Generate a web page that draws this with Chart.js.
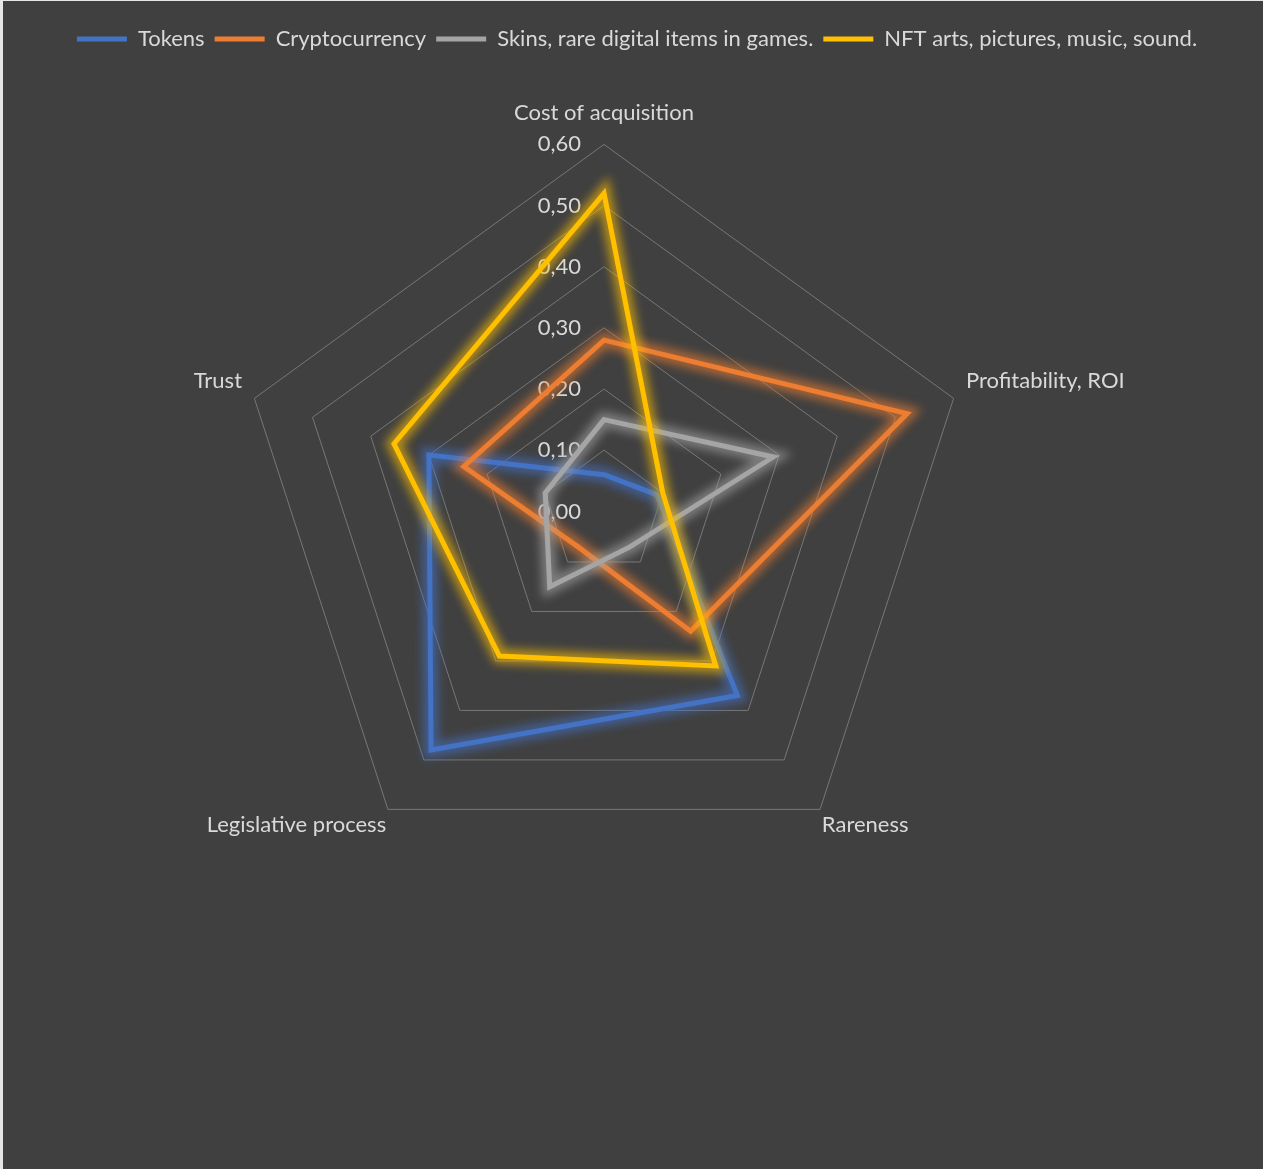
<!DOCTYPE html>
<html>
<head>
<meta charset="utf-8">
<title>Radar chart</title>
<script src="https://cdn.jsdelivr.net/npm/chart.js@4.4.1/dist/chart.umd.min.js"></script>
<style>
    html, body { margin: 0; padding: 0; background: #e6e6e6; }
    #wrap { position: absolute; left: 3px; top: 1px; width: 1260px; height: 1168px; background: #404040; }
</style>
</head>
<body>
<div id="wrap"><canvas id="radarChart"></canvas></div>
<script>
// Chart data
const categories = ['Cost of acquisition', 'Profitability, ROI', 'Rareness', 'Legislative process', 'Trust'];
const seriesNames = ['Tokens', 'Cryptocurrency', 'Skins, rare digital items in games.', 'NFT arts, pictures, music, sound.'];
const tokens = [0.06, 0.09, 0.37, 0.48, 0.30];
const cryptocurrency = [0.28, 0.52, 0.24, 0.07, 0.24];
const skins = [0.15, 0.29, 0.07, 0.15, 0.10];
const nftArts = [0.52, 0.10, 0.31, 0.29, 0.36];
const scaleMax = 0.6;
const scaleStep = 0.1;

const seriesColors = ['#4472C4', '#ED7D31', '#A5A5A5', '#FFC000'];
const textColor = '#d9d9d9';
const gridColor = '#777777';
// pushes the tick numbers to the left of the vertical axis
const TICK_PAD = '\u2007'.repeat(7);

Chart.defaults.font.family = 'Lato, "Open Sans", sans-serif';
Chart.defaults.font.size = 22;
Chart.defaults.color = textColor;

// glow: a wide, blurred, translucent copy of each line drawn underneath it
const glowPlugin = {
    id: 'glow',
    beforeDatasetDraw(chart, args) {
        const line = args.meta.dataset;
        if (!line) return;
        const ctx = chart.ctx;
        const base = line.options;
        ctx.save();
        ctx.filter = 'blur(5px)';
        ctx.globalAlpha = 0.6;
        line.options = Object.assign({}, base, { borderWidth: 15 });
        line.draw(ctx, chart.chartArea);
        line.options = base;
        ctx.restore();
    }
};

const allSeries = [tokens, cryptocurrency, skins, nftArts];
const datasets = allSeries.map((values, i) => ({
    label: seriesNames[i],
    data: values,
    borderColor: seriesColors[i],
    backgroundColor: seriesColors[i],
    borderWidth: 5,
    borderCapStyle: 'round',
    fill: false,
    pointRadius: 0,
    pointHoverRadius: 0,
    // later series are drawn on top, as in the original
    order: allSeries.length - 1 - i
}));

new Chart(document.getElementById('radarChart'), {
    type: 'radar',
    data: {
        labels: categories,
        datasets: datasets
    },
    plugins: [glowPlugin],
    options: {
        responsive: true,
        maintainAspectRatio: false,
        animation: false,
        layout: {
            padding: { top: 17, bottom: 261, left: 8, right: 0 }
        },
        plugins: {
            legend: {
                position: 'top',
                labels: {
                    color: textColor,
                    usePointStyle: true,
                    pointStyle: 'line',
                    pointStyleWidth: 50,
                    padding: 10,
                    font: { size: 22 },
                    sort: (a, b) => a.datasetIndex - b.datasetIndex
                }
            },
            // empty title / subtitle only used as spacers: gap under the legend, margin on the right
            title: {
                display: true,
                text: '',
                weight: 500,
                font: { size: 10, lineHeight: 1 },
                padding: { top: 7, bottom: 7 }
            },
            subtitle: {
                display: true,
                text: '',
                position: 'right',
                fullSize: false,
                font: { size: 10, lineHeight: 1 },
                padding: { top: 28, bottom: 28 }
            },
            tooltip: { enabled: false }
        },
        scales: {
            r: {
                min: -0.001,
                max: scaleMax,
                angleLines: { display: false },
                grid: {
                    color: ctx => ctx.tick && ctx.tick.value <= 0 ? 'rgba(0,0,0,0)' : gridColor,
                    lineWidth: 1
                },
                ticks: {
                    stepSize: scaleStep,
                    showLabelBackdrop: false,
                    backdropPadding: 0,
                    color: textColor,
                    font: { size: 22 },
                    callback: v => (Math.abs(v) < 0.005 ? 0 : v).toFixed(2).replace('.', ',') + TICK_PAD
                },
                pointLabels: {
                    color: textColor,
                    font: { size: 22 },
                    padding: ctx => ctx.index === 0 ? 7 : (ctx.index === 2 || ctx.index === 3 ? -8 : 2)
                }
            }
        }
    }
});
</script>
</body>
</html>
